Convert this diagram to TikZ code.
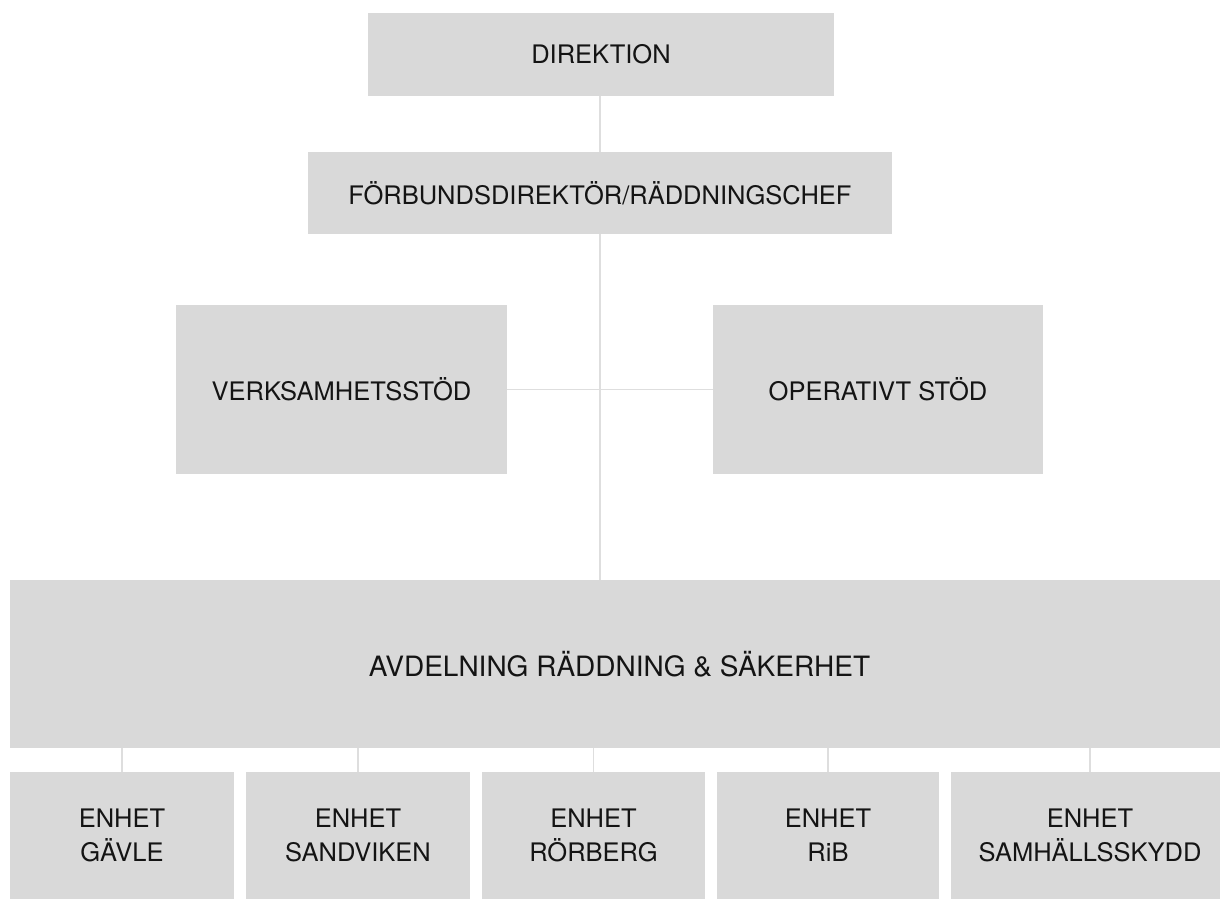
\documentclass[tikz,border=0pt]{standalone}
\usepackage{fontspec}
\setmainfont{TeX Gyre Heros}
\definecolor{boxc}{RGB}{217,217,217}
\definecolor{linec}{RGB}{222,222,222}
\definecolor{txtc}{RGB}{20,20,20}
\begin{document}
\begin{tikzpicture}[x=1pt,y=-1pt,
  orgbox/.style={fill=boxc, draw=none, inner sep=0pt, text=txtc, align=center,
    font=\fontsize{25.5}{34}\selectfont},
  conn/.style={draw=linec, line width=1.5pt}]
\useasboundingbox (0,0) rectangle (1220,900);
\clip (0,0) rectangle (1220,900);
\node[orgbox, minimum width=466pt, minimum height=83pt] (dir) at (601,54.5) {DIREKTION};
\node[orgbox, minimum width=584pt, minimum height=82pt] (forb) at (600,193) {FÖRBUNDSDIREKTÖR/RÄDDNINGSCHEF};
\node[orgbox, minimum width=331pt, minimum height=169pt] (verk) at (341.5,389.5) {VERKSAMHETSSTÖD};
\node[orgbox, minimum width=330pt, minimum height=169pt] (op) at (878,389.5) {OPERATIVT STÖD};
\node[orgbox, minimum width=1219pt, minimum height=168pt, font=\fontsize{28}{34}\selectfont] (avd) at (619.5,664) {AVDELNING RÄDDNING \& SÄKERHET};
\node[orgbox, minimum width=224pt, minimum height=127pt] (e1) at (122,835.5) {ENHET\\GÄVLE};
\node[orgbox, minimum width=224pt, minimum height=127pt] (e2) at (358,835.5) {ENHET\\SANDVIKEN};
\node[orgbox, minimum width=223pt, minimum height=127pt] (e3) at (593.5,835.5) {ENHET\\RÖRBERG};
\node[orgbox, minimum width=222pt, minimum height=127pt] (e4) at (828,835.5) {ENHET\\RiB};
\node[orgbox, minimum width=278pt, minimum height=127pt] (e5) at (1090,835.5) {ENHET\\SAMHÄLLSSKYDD};
\draw[conn] (dir.south -| forb.north) -- (forb.north);
\draw[conn] (forb.south) -- (forb.south |- avd.north);
\draw[conn] (verk.east) -- (op.west);
\foreach \e in {e1,e2,e3,e4,e5} {
  \draw[conn] (\e.north) -- (\e.north |- avd.south);
}
\end{tikzpicture}
\end{document}
